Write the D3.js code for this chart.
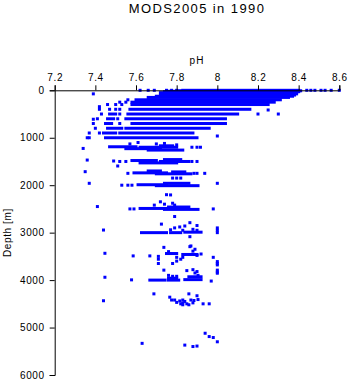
<!DOCTYPE html>
<html><head><meta charset="utf-8">
<script src="https://cdn.jsdelivr.net/npm/d3@7"></script>
<style>body{margin:0;background:#fff}svg{display:block}text{font-family:"Liberation Sans",Arial,Helvetica,sans-serif;fill:#000}</style>
</head><body>
<script>
const title = "MODS2005 in 1990";
const xLabel = "pH";
const yLabel = "Depth [m]";
const xTicks = [7.2, 7.4, 7.6, 7.8, 8.0, 8.2, 8.4, 8.6];
const xTickLabels = ["7.2", "7.4", "7.6", "7.8", "8", "8.2", "8.4", "8.6"];
const yTicks = [0, 1000, 2000, 3000, 4000, 5000, 6000];

// dense horizontal runs of observations: depth, pH from, pH to
const runDepth = [0, 10, 20, 30, 50, 75, 100, 125, 150, 200, 250, 300, 400, 500, 600, 700, 800, 900, 1000,
  1170, 1190, 1200, 1230, 1260, 1460, 1480, 1500, 1530, 1700, 1720, 1740, 1760, 1960, 1990, 2010, 2460, 2490, 2510,
  3000, 3000, 2990, 3440, 3460, 3930, 3960, 4000, 4000, 3990, 500, 600, 700, 800, 900];
const runFrom = [7.83, 7.80, 7.76, 7.74, 7.72, 7.74, 7.72, 7.70, 7.66, 7.60, 7.58, 7.58, 7.57, 7.56, 7.55, 7.58, 7.55, 7.52, 7.45,
  7.72, 7.47, 7.62, 7.55, 7.66, 7.74, 7.58, 7.72, 7.62, 7.66, 7.78, 7.59, 7.70, 7.74, 7.61, 7.70, 7.76, 7.62, 7.74,
  7.627, 7.77, 7.84, 7.75, 7.83, 7.86, 7.76, 7.668, 7.758, 7.84, 7.47, 7.46, 7.45, 7.46, 7.44];
const runTo = [8.40, 8.41, 8.40, 8.40, 8.39, 8.39, 8.38, 8.37, 8.35, 8.31, 8.28, 8.25, 8.16, 8.10, 8.04, 8.04, 7.96, 7.88, 7.90,
  7.78, 7.60, 7.80, 7.72, 7.83, 7.82, 7.70, 7.86, 7.80, 7.72, 7.84, 7.75, 7.87, 7.86, 7.75, 7.905, 7.86, 7.78, 7.905,
  7.75, 7.82, 7.92, 7.80, 7.90, 7.92, 7.80, 7.742, 7.81, 7.92, 7.50, 7.49, 7.48, 7.53, 7.50];

// isolated observations
const ptPH = [7.62, 7.66, 7.69, 7.75, 7.775, 7.80, 8.44, 8.46, 8.48, 8.51, 8.53, 8.56, 8.60,
  7.39, 7.56, 7.52, 7.55, 7.46, 7.50, 7.53, 7.42, 7.42, 7.47, 7.50, 7.52, 8.25,
  7.43, 7.52, 8.20, 8.30, 7.41, 7.39, 7.51, 7.39, 7.52, 7.40, 7.37, 7.42, 7.36, 7.37, 8.00,
  7.61, 7.57, 7.70, 7.74, 7.80, 7.875, 7.90, 7.917, 7.34,
  7.52, 7.55, 7.875, 7.90, 7.36, 7.49, 7.51,
  7.56, 7.885, 7.90, 7.938, 7.35, 7.78, 7.80, 7.82,
  7.53, 7.56, 7.58, 8.00, 7.37,
  7.77, 7.75, 7.57, 7.59, 7.69, 7.72, 7.74, 7.78, 7.79, 7.98, 7.79, 7.41,
  7.725, 7.79, 7.815, 7.84, 7.865, 7.90, 7.90, 7.77, 7.83, 7.88, 8.00, 8.00, 8.00, 7.44, 7.865,
  7.447, 7.586, 7.668, 7.71, 7.71, 7.71, 7.737, 7.865, 7.87, 7.89, 7.88, 7.76, 7.80, 7.82, 7.80, 7.78, 7.83, 7.90, 7.92, 7.98, 8.00, 8.00, 8.00,
  7.737, 7.76, 7.78, 7.80, 7.85, 7.88, 7.89, 7.90, 7.905, 7.447, 7.578, 7.97, 8.00, 8.00, 8.00,
  7.688, 7.44, 7.766, 7.775, 7.79, 7.815, 7.83, 7.83, 7.83, 7.86, 7.87, 7.885, 7.90, 7.905, 7.93, 7.96, 7.80, 7.82, 7.84, 7.85, 7.88, 7.86,
  7.63, 7.84, 7.88, 7.90, 7.94, 7.96, 7.98, 8.00];
const ptDepth = [0, 0, 0, 0, 0, 0, 0, 0, 0, 0, 0, 0, 0,
  75, 200, 250, 250, 300, 300, 300, 345, 400, 400, 400, 400, 415,
  500, 500, 500, 500, 600, 610, 600, 700, 700, 800, 900, 900, 1000, 1000, 963,
  1100, 1130, 1130, 1120, 1150, 1200, 1200, 1200, 1225,
  1500, 1500, 1500, 1500, 1470, 1490, 1595,
  1750, 1750, 1750, 1750, 1715, 1850, 1850, 1850,
  2000, 2000, 2000, 1960, 1960,
  2205, 2200, 2500, 2500, 2420, 2350, 2400, 2380, 2420, 2500, 2660, 2450,
  2820, 2900, 2880, 2860, 2790, 2850, 2950, 2940, 2950, 2930, 2900, 2950, 3000, 2945, 3085,
  3435, 3490, 3490, 3500, 3560, 3650, 3310, 3295, 3280, 3350, 3390, 3400, 3520, 3560, 3600, 3650, 3520, 3480, 3450, 3520, 3610, 3650, 3680,
  3790, 3900, 3920, 3920, 3800, 3780, 3850, 3820, 3900, 3940, 3995, 4020, 3790, 3830, 3855,
  4290, 4435, 4360, 4420, 4420, 4440, 4420, 4480, 4520, 4290, 4420, 4430, 4330, 4410, 4500, 4500, 4470, 4500, 4450, 4500, 4480, 4520,
  5333, 5370, 5400, 5390, 5120, 5190, 5210, 5300];

const W = 350, H = 384;
const svg = d3.select("body").append("svg").attr("width", W).attr("height", H);
svg.append("rect").attr("width", W).attr("height", H).attr("fill", "#fff");

const x = d3.scaleLinear().domain([7.2, 8.6]).range([54.7, 339.3]);
const y = d3.scaleLinear().domain([0, 6000]).range([90.3, 375]);
const col = "#0000ff";
const s = 3;

const runs = runDepth.map((d, i) => ({d, a: runFrom[i], b: runTo[i]}));
svg.append("g").selectAll("rect").data(runs).join("rect")
  .attr("x", r => x(r.a) - s / 2).attr("y", r => y(r.d) - s / 2)
  .attr("width", r => x(r.b) - x(r.a) + s).attr("height", s).attr("fill", col);

const pts = ptPH.map((p, i) => ({p, d: ptDepth[i]}));
svg.append("g").selectAll("rect").data(pts).join("rect")
  .attr("x", q => x(q.p) - s / 2).attr("y", q => y(q.d) - s / 2)
  .attr("width", s).attr("height", s).attr("fill", col);

const xAxis = d3.axisTop(x).tickValues(xTicks).tickFormat((d, i) => xTickLabels[i]).tickSizeOuter(0).tickSize(5).tickPadding(4);
const gx = svg.append("g").attr("transform", "translate(0,90.3)").call(xAxis);
const yAxis = d3.axisLeft(y).tickValues(yTicks).tickFormat(d3.format("d")).tickSizeOuter(0).tickSize(5).tickPadding(5);
const gy = svg.append("g").attr("transform", "translate(54.7,0)").call(yAxis);
[gx, gy].forEach(g => {
  g.selectAll("text").style("font-size", "10px").style("letter-spacing", "0.6px").attr("fill", "#000");
  g.selectAll("line,path").attr("stroke", "#000").attr("stroke-width", 1);
});

svg.append("text").attr("x", 197).attr("y", 13).attr("text-anchor", "middle").style("font-size", "13px").style("letter-spacing", "1.4px").text(title);
svg.append("text").attr("x", 197).attr("y", 64).attr("text-anchor", "middle").style("font-size", "10px").style("letter-spacing", "1px").text(xLabel);
svg.append("text").attr("transform", "translate(11,232.6) rotate(-90)").attr("text-anchor", "middle").style("font-size", "10px").style("letter-spacing", "0.6px").text(yLabel);
</script>
</body></html>
